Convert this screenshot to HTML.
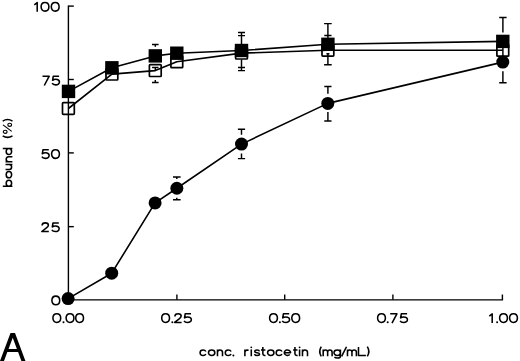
<!DOCTYPE html>
<html><head><meta charset="utf-8"><title>Figure A</title>
<style>
html,body{margin:0;padding:0;background:#fff;overflow:hidden;font-family:"Liberation Sans",sans-serif;}
svg{display:block}
</style></head>
<body>
<svg width="520" height="361" viewBox="0 0 520 361">
<rect width="520" height="361" fill="#fff"/>
<g>
<g fill="none" stroke="#000" stroke-width="1.4"><path d="M68.4,5.55 L68.4,300.6 M67.65,299.85 L503.1,299.85" />
<path d="M68.4,6.1 L73.8,6.1"/>
<path d="M68.4,79.5 L73.8,79.5"/>
<path d="M68.4,152.9 L73.8,152.9"/>
<path d="M68.4,226.65 L73.8,226.65"/>
<path d="M176.9,299.85 L176.9,294.5"/>
<path d="M284.7,299.85 L284.7,294.5"/>
<path d="M392.9,299.85 L392.9,294.5"/>
<path d="M502.4,299.85 L502.4,294.5"/></g>
<rect x="62.50" y="102.60" width="11.8" height="11.8" rx="0.8" fill="none" stroke="#000" stroke-width="1.7"/>
<rect x="106.00" y="68.20" width="11.8" height="11.8" rx="0.8" fill="none" stroke="#000" stroke-width="1.7"/>
<rect x="149.40" y="64.70" width="11.8" height="11.8" rx="0.8" fill="none" stroke="#000" stroke-width="1.7"/>
<rect x="170.90" y="55.90" width="11.8" height="11.8" rx="0.8" fill="none" stroke="#000" stroke-width="1.7"/>
<rect x="235.60" y="47.20" width="11.8" height="11.8" rx="0.8" fill="none" stroke="#000" stroke-width="1.7"/>
<rect x="322.00" y="44.35" width="11.8" height="11.8" rx="0.8" fill="none" stroke="#000" stroke-width="1.7"/>
<rect x="496.90" y="44.40" width="11.8" height="11.8" rx="0.8" fill="none" stroke="#000" stroke-width="1.7"/>
<path d="M68.4,108.5 L111.9,74.1 L155.3,70.6 L176.8,61.8 L241.5,53.1 L327.9,50.25 L502.8,50.3" fill="none" stroke="#000" stroke-width="1.6" stroke-linejoin="round"/>
<path d="M68.5,91.4 L111.9,67.8 L155.3,55.9 L176.8,53.2 L241.5,50.5 L327.9,44.3 L502.8,41.4" fill="none" stroke="#000" stroke-width="1.6" stroke-linejoin="round"/>
<path d="M68.1,298.6 L111.7,273.2 L155.1,202.9 L176.85,188.25 L241.5,144.1 L327.8,103.4 L502.8,62.1" fill="none" stroke="#000" stroke-width="1.6" stroke-linejoin="round"/>
<path d="M152.0,44.5 L158.60000000000002,44.5 M152.10000000000002,67.4 L158.5,67.4 M152.0,82.5 L158.60000000000002,82.5 M155.3,44.5 L155.3,46.8 M155.3,67.4 L155.3,70.6 M155.3,80.1 L155.3,82.5 M173.0,177.0 L180.60000000000002,177.0 M173.0,199.7 L180.60000000000002,199.7 M176.8,177.0 L176.8,179.1 M176.8,197.8 L176.8,199.7 M238.0,32.4 L245.0,32.4 M238.0,35.6 L245.0,35.6 M238.0,67.5 L245.0,67.5 M238.0,70.6 L245.0,70.6 M241.5,32.4 L241.5,44.2 M241.5,59.4 L241.5,70.6 M237.9,129.3 L245.1,129.3 M237.9,158.6 L245.1,158.6 M241.5,129.3 L241.5,134.7 M241.5,153.4 L241.5,158.6 M324.09999999999997,23.6 L331.7,23.6 M324.29999999999995,35.4 L331.5,35.4 M326.4,53.8 L329.4,53.8 M324.09999999999997,64.7 L331.7,64.7 M327.9,23.6 L327.9,38.0 M327.9,53.2 L327.9,64.7 M324.29999999999995,86.5 L331.5,86.5 M324.29999999999995,120.9 L331.5,120.9 M327.9,86.5 L327.9,93.8 M327.9,112.0 L327.9,120.9 M499.2,17.5 L506.59999999999997,17.5 M499.2,82.8 L506.59999999999997,82.8 M502.9,17.5 L502.9,32.6 M502.9,47 L502.9,56 M502.9,71.2 L502.9,82.8" fill="none" stroke="#000" stroke-width="1.45"/>
<rect x="61.80" y="84.70" width="13.4" height="13.4" fill="#000"/>
<rect x="105.20" y="61.10" width="13.4" height="13.4" fill="#000"/>
<rect x="148.60" y="49.20" width="13.4" height="13.4" fill="#000"/>
<rect x="170.10" y="46.50" width="13.4" height="13.4" fill="#000"/>
<rect x="234.80" y="43.80" width="13.4" height="13.4" fill="#000"/>
<rect x="321.20" y="37.60" width="13.4" height="13.4" fill="#000"/>
<rect x="496.10" y="34.70" width="13.4" height="13.4" fill="#000"/>
<circle cx="68.1" cy="298.6" r="6.5" fill="#000"/>
<circle cx="111.7" cy="273.2" r="6.5" fill="#000"/>
<circle cx="155.1" cy="202.9" r="6.5" fill="#000"/>
<circle cx="176.85" cy="188.25" r="6.5" fill="#000"/>
<circle cx="241.5" cy="144.1" r="6.5" fill="#000"/>
<circle cx="327.8" cy="103.4" r="6.5" fill="#000"/>
<circle cx="502.8" cy="62.1" r="6.5" fill="#000"/>
<g fill="none" stroke="#000" stroke-width="1.55" stroke-linecap="butt" stroke-linejoin="round"><g transform="translate(52.20,323.00)"><path d="M4.6,-9.25 C2.3,-9.25 0.7,-7.4 0.7,-4.9 C0.7,-2.4 2.3,-0.55 4.6,-0.55 C6.9,-0.55 8.5,-2.4 8.5,-4.9 C8.5,-7.4 6.9,-9.25 4.6,-9.25 Z"/></g>
<g transform="translate(61.80,323.00)"><circle cx="1.7" cy="-0.65" r="1.0" fill="#000" stroke="none"/></g>
<g transform="translate(65.40,323.00)"><path d="M4.6,-9.25 C2.3,-9.25 0.7,-7.4 0.7,-4.9 C0.7,-2.4 2.3,-0.55 4.6,-0.55 C6.9,-0.55 8.5,-2.4 8.5,-4.9 C8.5,-7.4 6.9,-9.25 4.6,-9.25 Z"/></g>
<g transform="translate(75.00,323.00)"><path d="M4.6,-9.25 C2.3,-9.25 0.7,-7.4 0.7,-4.9 C0.7,-2.4 2.3,-0.55 4.6,-0.55 C6.9,-0.55 8.5,-2.4 8.5,-4.9 C8.5,-7.4 6.9,-9.25 4.6,-9.25 Z"/></g>
<g transform="translate(161.00,323.00)"><path d="M4.6,-9.25 C2.3,-9.25 0.7,-7.4 0.7,-4.9 C0.7,-2.4 2.3,-0.55 4.6,-0.55 C6.9,-0.55 8.5,-2.4 8.5,-4.9 C8.5,-7.4 6.9,-9.25 4.6,-9.25 Z"/></g>
<g transform="translate(170.60,323.00)"><circle cx="1.7" cy="-0.65" r="1.0" fill="#000" stroke="none"/></g>
<g transform="translate(173.90,323.00)"><path d="M1.0,-6.6 C1.0,-8.2 2.3,-9.25 4.15,-9.25 C6.0,-9.25 7.3,-8.3 7.3,-6.9 C7.3,-5.7 6.4,-4.9 5.0,-3.9 L0.7,-0.6 L7.7,-0.6"/></g>
<g transform="translate(183.40,323.00)"><path d="M7.6,-9.2 L1.8,-9.2 L1.1,-5.1 C2.0,-5.8 3.0,-6.1 4.2,-6.1 C6.4,-6.1 7.95,-4.9 7.95,-3.3 C7.95,-1.7 6.4,-0.55 4.2,-0.55 C2.5,-0.55 1.2,-1.1 0.65,-2.2"/></g>
<g transform="translate(268.90,323.00)"><path d="M4.6,-9.25 C2.3,-9.25 0.7,-7.4 0.7,-4.9 C0.7,-2.4 2.3,-0.55 4.6,-0.55 C6.9,-0.55 8.5,-2.4 8.5,-4.9 C8.5,-7.4 6.9,-9.25 4.6,-9.25 Z"/></g>
<g transform="translate(278.20,323.00)"><circle cx="1.7" cy="-0.65" r="1.0" fill="#000" stroke="none"/></g>
<g transform="translate(281.60,323.00)"><path d="M7.6,-9.2 L1.8,-9.2 L1.1,-5.1 C2.0,-5.8 3.0,-6.1 4.2,-6.1 C6.4,-6.1 7.95,-4.9 7.95,-3.3 C7.95,-1.7 6.4,-0.55 4.2,-0.55 C2.5,-0.55 1.2,-1.1 0.65,-2.2"/></g>
<g transform="translate(291.10,323.00)"><path d="M4.6,-9.25 C2.3,-9.25 0.7,-7.4 0.7,-4.9 C0.7,-2.4 2.3,-0.55 4.6,-0.55 C6.9,-0.55 8.5,-2.4 8.5,-4.9 C8.5,-7.4 6.9,-9.25 4.6,-9.25 Z"/></g>
<g transform="translate(376.90,323.00)"><path d="M4.6,-9.25 C2.3,-9.25 0.7,-7.4 0.7,-4.9 C0.7,-2.4 2.3,-0.55 4.6,-0.55 C6.9,-0.55 8.5,-2.4 8.5,-4.9 C8.5,-7.4 6.9,-9.25 4.6,-9.25 Z"/></g>
<g transform="translate(386.00,323.00)"><circle cx="1.7" cy="-0.65" r="1.0" fill="#000" stroke="none"/></g>
<g transform="translate(389.70,323.00)"><path d="M0.5,-9.2 L7.2,-9.2 L2.3,0.1"/></g>
<g transform="translate(399.50,323.00)"><path d="M7.6,-9.2 L1.8,-9.2 L1.1,-5.1 C2.0,-5.8 3.0,-6.1 4.2,-6.1 C6.4,-6.1 7.95,-4.9 7.95,-3.3 C7.95,-1.7 6.4,-0.55 4.2,-0.55 C2.5,-0.55 1.2,-1.1 0.65,-2.2"/></g>
<g transform="translate(488.70,323.00)"><path d="M0.6,-6.8 L3.5,-9.1 L3.5,0.1"/></g>
<g transform="translate(495.40,323.00)"><circle cx="1.7" cy="-0.65" r="1.0" fill="#000" stroke="none"/></g>
<g transform="translate(498.90,323.00)"><path d="M4.6,-9.25 C2.3,-9.25 0.7,-7.4 0.7,-4.9 C0.7,-2.4 2.3,-0.55 4.6,-0.55 C6.9,-0.55 8.5,-2.4 8.5,-4.9 C8.5,-7.4 6.9,-9.25 4.6,-9.25 Z"/></g>
<g transform="translate(508.90,323.00)"><path d="M4.6,-9.25 C2.3,-9.25 0.7,-7.4 0.7,-4.9 C0.7,-2.4 2.3,-0.55 4.6,-0.55 C6.9,-0.55 8.5,-2.4 8.5,-4.9 C8.5,-7.4 6.9,-9.25 4.6,-9.25 Z"/></g>
<g transform="translate(33.70,11.70)"><path d="M0.6,-6.8 L3.5,-9.1 L3.5,0.1"/></g>
<g transform="translate(40.40,11.70)"><path d="M4.6,-9.25 C2.3,-9.25 0.7,-7.4 0.7,-4.9 C0.7,-2.4 2.3,-0.55 4.6,-0.55 C6.9,-0.55 8.5,-2.4 8.5,-4.9 C8.5,-7.4 6.9,-9.25 4.6,-9.25 Z"/></g>
<g transform="translate(50.60,11.70)"><path d="M4.6,-9.25 C2.3,-9.25 0.7,-7.4 0.7,-4.9 C0.7,-2.4 2.3,-0.55 4.6,-0.55 C6.9,-0.55 8.5,-2.4 8.5,-4.9 C8.5,-7.4 6.9,-9.25 4.6,-9.25 Z"/></g>
<g transform="translate(42.00,85.40)"><path d="M0.5,-9.2 L7.2,-9.2 L2.3,0.1"/></g>
<g transform="translate(51.50,85.40)"><path d="M7.6,-9.2 L1.8,-9.2 L1.1,-5.1 C2.0,-5.8 3.0,-6.1 4.2,-6.1 C6.4,-6.1 7.95,-4.9 7.95,-3.3 C7.95,-1.7 6.4,-0.55 4.2,-0.55 C2.5,-0.55 1.2,-1.1 0.65,-2.2"/></g>
<g transform="translate(41.20,158.90)"><path d="M7.6,-9.2 L1.8,-9.2 L1.1,-5.1 C2.0,-5.8 3.0,-6.1 4.2,-6.1 C6.4,-6.1 7.95,-4.9 7.95,-3.3 C7.95,-1.7 6.4,-0.55 4.2,-0.55 C2.5,-0.55 1.2,-1.1 0.65,-2.2"/></g>
<g transform="translate(50.90,158.90)"><path d="M4.6,-9.25 C2.3,-9.25 0.7,-7.4 0.7,-4.9 C0.7,-2.4 2.3,-0.55 4.6,-0.55 C6.9,-0.55 8.5,-2.4 8.5,-4.9 C8.5,-7.4 6.9,-9.25 4.6,-9.25 Z"/></g>
<g transform="translate(41.10,232.10)"><path d="M1.0,-6.6 C1.0,-8.2 2.3,-9.25 4.15,-9.25 C6.0,-9.25 7.3,-8.3 7.3,-6.9 C7.3,-5.7 6.4,-4.9 5.0,-3.9 L0.7,-0.6 L7.7,-0.6"/></g>
<g transform="translate(51.20,232.10)"><path d="M7.6,-9.2 L1.8,-9.2 L1.1,-5.1 C2.0,-5.8 3.0,-6.1 4.2,-6.1 C6.4,-6.1 7.95,-4.9 7.95,-3.3 C7.95,-1.7 6.4,-0.55 4.2,-0.55 C2.5,-0.55 1.2,-1.1 0.65,-2.2"/></g>
<g transform="translate(51.20,305.40)"><path d="M4.6,-9.25 C2.3,-9.25 0.7,-7.4 0.7,-4.9 C0.7,-2.4 2.3,-0.55 4.6,-0.55 C6.9,-0.55 8.5,-2.4 8.5,-4.9 C8.5,-7.4 6.9,-9.25 4.6,-9.25 Z"/></g>
<g transform="translate(199.30,356.25)"><path d="M6.6,-4.75 C6.1,-5.70 5.1,-6.2 3.8,-6.2 C1.95,-6.2 0.78,-5.10 0.78,-3.50 C0.78,-1.90 1.95,-0.8 3.8,-0.8 C5.1,-0.8 6.1,-1.30 6.6,-2.25"/></g>
<g transform="translate(207.70,356.25)"><path d="M3.95,-6.2 C2.20,-6.2 0.7800000000000002,-4.99 0.7800000000000002,-3.5 C0.7800000000000002,-2.01 2.20,-0.8 3.95,-0.8 C5.70,-0.8 7.12,-2.01 7.12,-3.5 C7.12,-4.99 5.70,-6.2 3.95,-6.2 Z"/></g>
<g transform="translate(216.70,356.25)"><path d="M0.78,-6.8500000000000005 L0.78,0 M0.78,-3.90 C0.78,-5.30 1.8,-6.2 3.3,-6.2 C4.8,-6.2 5.8,-5.30 5.8,-3.90 L5.8,0"/></g>
<g transform="translate(224.50,356.25)"><path d="M6.6,-4.75 C6.1,-5.70 5.1,-6.2 3.8,-6.2 C1.95,-6.2 0.78,-5.10 0.78,-3.50 C0.78,-1.90 1.95,-0.8 3.8,-0.8 C5.1,-0.8 6.1,-1.30 6.6,-2.25"/></g>
<g transform="translate(231.70,356.25)"><circle cx="1.7" cy="-0.65" r="1.0" fill="#000" stroke="none"/></g>
<g transform="translate(244.10,356.25)"><path d="M0.78,-6.8500000000000005 L0.78,0 M0.78,-3.90 C0.78,-5.30 1.8,-6.15 3.3,-6.15 L4.5,-6.05"/></g>
<g transform="translate(250.50,356.25)"><path d="M0.78,-6.8500000000000005 L0.78,0"/><circle cx="0.78" cy="-8.9" r="0.9" fill="#000" stroke="none"/></g>
<g transform="translate(253.85,356.25)"><path d="M5.6,-4.90 C5.4,-5.75 4.4,-6.2 3.2,-6.2 C1.9,-6.2 0.9,-5.70 0.9,-4.80 C0.9,-3.95 1.9,-3.70 3.2,-3.50 C4.6,-3.25 5.7,-3.00 5.7,-2.20 C5.7,-1.25 4.6,-0.8 3.2,-0.8 C1.9,-0.8 0.9,-1.25 0.65,-2.10"/></g>
<g transform="translate(261.00,356.25)"><path d="M1.85,-9.2 L1.85,-2.40 C1.85,-1.20 2.5,-0.8 3.6,-0.8 L4.5,-0.85 M0,-6.2 L4.4,-6.2"/></g>
<g transform="translate(266.80,356.25)"><path d="M3.95,-6.2 C2.20,-6.2 0.7800000000000002,-4.99 0.7800000000000002,-3.5 C0.7800000000000002,-2.01 2.20,-0.8 3.95,-0.8 C5.70,-0.8 7.12,-2.01 7.12,-3.5 C7.12,-4.99 5.70,-6.2 3.95,-6.2 Z"/></g>
<g transform="translate(275.40,356.25)"><path d="M6.6,-4.75 C6.1,-5.70 5.1,-6.2 3.8,-6.2 C1.95,-6.2 0.78,-5.10 0.78,-3.50 C0.78,-1.90 1.95,-0.8 3.8,-0.8 C5.1,-0.8 6.1,-1.30 6.6,-2.25"/></g>
<g transform="translate(283.50,356.25)"><path d="M0.8,-3.50 L7.1,-3.50 A3.17,2.700 0 1 0 6.3,-1.75"/></g>
<g transform="translate(293.10,356.25)"><path d="M1.85,-9.2 L1.85,-2.40 C1.85,-1.20 2.5,-0.8 3.6,-0.8 L4.5,-0.85 M0,-6.2 L4.4,-6.2"/></g>
<g transform="translate(298.80,356.25)"><path d="M0.78,-6.8500000000000005 L0.78,0"/><circle cx="0.78" cy="-8.9" r="0.9" fill="#000" stroke="none"/></g>
<g transform="translate(301.70,356.25)"><path d="M0.78,-6.8500000000000005 L0.78,0 M0.78,-3.90 C0.78,-5.30 1.8,-6.2 3.3,-6.2 C4.8,-6.2 5.8,-5.30 5.8,-3.90 L5.8,0"/></g>
<g transform="translate(319.00,356.25)"><path d="M2.3,-9.7 Q-0.8,-4.8 2.3,0.1"/></g>
<g transform="translate(322.40,356.25)"><path d="M0.78,-6.8500000000000005 L0.78,0 M0.78,-4.00 C0.78,-5.40 1.55,-6.2 3.0,-6.2 C4.45,-6.2 5.25,-5.40 5.25,-4.00 L5.25,0 M5.25,-4.00 C5.25,-5.40 6.05,-6.2 7.5,-6.2 C8.95,-6.2 9.7,-5.40 9.7,-4.00 L9.7,0"/></g>
<g transform="translate(333.20,356.25)"><path d="M4.0,-6.2 C2.23,-6.2 0.7999999999999998,-4.99 0.7999999999999998,-3.5 C0.7999999999999998,-2.01 2.23,-0.8 4.0,-0.8 C5.77,-0.8 7.2,-2.01 7.2,-3.5 C7.2,-4.99 5.77,-6.2 4.0,-6.2 Z M7.2,-6.8500000000000005 L7.2,0 C7.2,1.3 6.1,1.8 4.2,1.8 C2.8,1.8 1.8,1.5 1.3,0.8"/></g>
<g transform="translate(341.20,356.25)"><path d="M0.4,0.1 L5.3,-9.5"/></g>
<g transform="translate(346.70,356.25)"><path d="M0.78,-6.8500000000000005 L0.78,0 M0.78,-4.00 C0.78,-5.40 1.55,-6.2 3.0,-6.2 C4.45,-6.2 5.25,-5.40 5.25,-4.00 L5.25,0 M5.25,-4.00 C5.25,-5.40 6.05,-6.2 7.5,-6.2 C8.95,-6.2 9.7,-5.40 9.7,-4.00 L9.7,0"/></g>
<g transform="translate(357.70,356.25)"><path d="M0.78,-9.2 L0.78,-0.8 L8.2,-0.8"/></g>
<g transform="translate(366.80,356.25)"><path d="M0.5,-9.7 Q3.6,-4.8 0.5,0.1"/></g>
<g transform="translate(12.40,187.00) rotate(-90)"><path d="M0.78,-9.6 L0.78,0 M3.8,-6.2 C2.13,-6.2 0.7799999999999998,-4.99 0.7799999999999998,-3.5 C0.7799999999999998,-2.01 2.13,-0.8 3.8,-0.8 C5.47,-0.8 6.82,-2.01 6.82,-3.5 C6.82,-4.99 5.47,-6.2 3.8,-6.2 Z"/></g>
<g transform="translate(12.40,178.60) rotate(-90)"><path d="M3.95,-6.2 C2.20,-6.2 0.7800000000000002,-4.99 0.7800000000000002,-3.5 C0.7800000000000002,-2.01 2.20,-0.8 3.95,-0.8 C5.70,-0.8 7.12,-2.01 7.12,-3.5 C7.12,-4.99 5.70,-6.2 3.95,-6.2 Z"/></g>
<g transform="translate(12.40,170.30) rotate(-90)"><path d="M0.78,-6.8500000000000005 L0.78,-3.10 C0.78,-1.70 1.8,-0.8 3.3,-0.8 C4.8,-0.8 5.8,-1.70 5.8,-3.10 M5.8,-6.8500000000000005 L5.8,0"/></g>
<g transform="translate(12.40,162.60) rotate(-90)"><path d="M0.78,-6.8500000000000005 L0.78,0 M0.78,-3.90 C0.78,-5.30 1.8,-6.2 3.3,-6.2 C4.8,-6.2 5.8,-5.30 5.8,-3.90 L5.8,0"/></g>
<g transform="translate(12.40,155.20) rotate(-90)"><path d="M6.7,-9.6 L6.7,0 M3.68,-6.2 C2.01,-6.2 0.6600000000000001,-4.99 0.6600000000000001,-3.5 C0.6600000000000001,-2.01 2.01,-0.8 3.68,-0.8 C5.35,-0.8 6.7,-2.01 6.7,-3.5 C6.7,-4.99 5.35,-6.2 3.68,-6.2 Z"/></g>
<g transform="translate(12.40,138.10) rotate(-90)"><path d="M2.3,-9.7 Q-0.8,-4.8 2.3,0.1"/></g>
<g transform="translate(12.40,134.10) rotate(-90)"><path d="M2.7,-0.7 L9.2,-9.4 M2.3,-9.1 C1.42,-9.1 0.6999999999999997,-8.25 0.6999999999999997,-7.199999999999999 C0.6999999999999997,-6.15 1.42,-5.3 2.3,-5.3 C3.18,-5.3 3.9,-6.15 3.9,-7.199999999999999 C3.9,-8.25 3.18,-9.1 2.3,-9.1 Z M9.3,-4.6 C8.42,-4.6 7.700000000000001,-3.75 7.700000000000001,-2.6999999999999997 C7.700000000000001,-1.65 8.42,-0.8 9.3,-0.8 C10.18,-0.8 10.9,-1.65 10.9,-2.6999999999999997 C10.9,-3.75 10.18,-4.6 9.3,-4.6 Z" stroke-width="1.15"/></g>
<g transform="translate(12.40,121.60) rotate(-90)"><path d="M0.5,-9.7 Q3.6,-4.8 0.5,0.1"/></g></g>
<path fill="#000" fill-rule="evenodd" d="M10.5,333 L15,333 L25.8,362 L-0.4,362 Z M12.74,337.7 L8.54,348.9 L16.91,348.9 Z M7.34,352.1 L18.1,352.1 L21.77,362 L3.63,362 Z"/>
</g>
</svg>
</body></html>
